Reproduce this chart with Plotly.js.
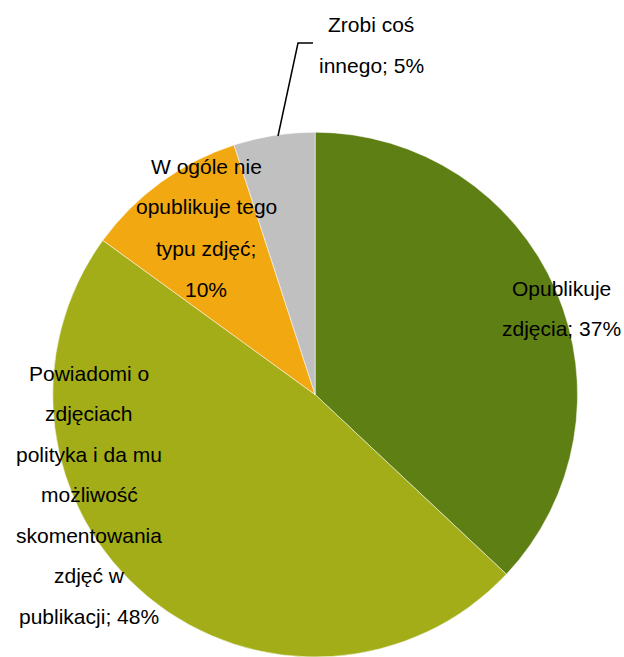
<!DOCTYPE html>
<html>
<head>
<meta charset="utf-8">
<script src="https://cdn.plot.ly/plotly-3.0.1.min.js"></script>
<style>html,body{margin:0;padding:0;background:#fff;}#chart{width:624px;height:657px;}</style>
</head>
<body>
<div id="chart"></div>
<script>
const categories = ['Opublikuje zdjęcia', 'Powiadomi o zdjęciach polityka i da mu możliwość skomentowania zdjęć w publikacji', 'W ogóle nie opublikuje tego typu zdjęć', 'Zrobi coś innego'];
const values = [37, 48, 10, 5];
const colors = ['#5e7f14', '#a3ad18', '#f2a811', '#c0c0c0'];
const labelLines = [
  ['Opublikuje', 'zdjęcia; 37%'],
  ['Powiadomi o', 'zdjęciach', 'polityka i da mu', 'możliwość', 'skomentowania', 'zdjęć w', 'publikacji; 48%'],
  ['W ogóle nie', 'opublikuje tego', 'typu zdjęć;', '10%'],
  ['Zrobi coś', 'innego; 5%']
];
// label block positions in pixels: [centre x, first line y, line step]
const labelPos = [[561, 288, 40], [89, 373, 40.5], [206, 166, 41], [371, 24, 41]];

const W = 624, H = 657;
const annotations = [];
labelLines.forEach((lines, i) => {
  const [cx, y0, step] = labelPos[i];
  lines.forEach((t, j) => {
    annotations.push({
      text: t, xref: 'paper', yref: 'paper',
      x: cx / W, y: 1 - (y0 + j * step) / H,
      xanchor: 'center', yanchor: 'middle', showarrow: false,
      font: {family: 'Liberation Sans, Arial, sans-serif', size: 21, color: '#000'}
    });
  });
});

const leader = [[313, 43], [298, 43], [278, 136]];
const shapes = [{
  type: 'path', xref: 'paper', yref: 'paper',
  path: 'M' + leader.map(p => (p[0] / W) + ',' + (1 - p[1] / H)).join(' L'),
  line: {color: '#000', width: 1.5}
}];

Plotly.newPlot('chart', [{
  type: 'pie', labels: categories, values: values, sort: false,
  direction: 'clockwise', rotation: 0,
  marker: {colors: colors, line: {color: '#ffffff', width: 0.5}},
  textinfo: 'none', hoverinfo: 'label+percent',
  domain: {x: [0.05, 0.96], y: [0, 0.7988]}
}], {
  width: W, height: H, margin: {l: 0, r: 0, t: 0, b: 0},
  showlegend: false, paper_bgcolor: '#fff',
  annotations: annotations, shapes: shapes
}, {displayModeBar: false, staticPlot: true});
</script>
</body>
</html>
